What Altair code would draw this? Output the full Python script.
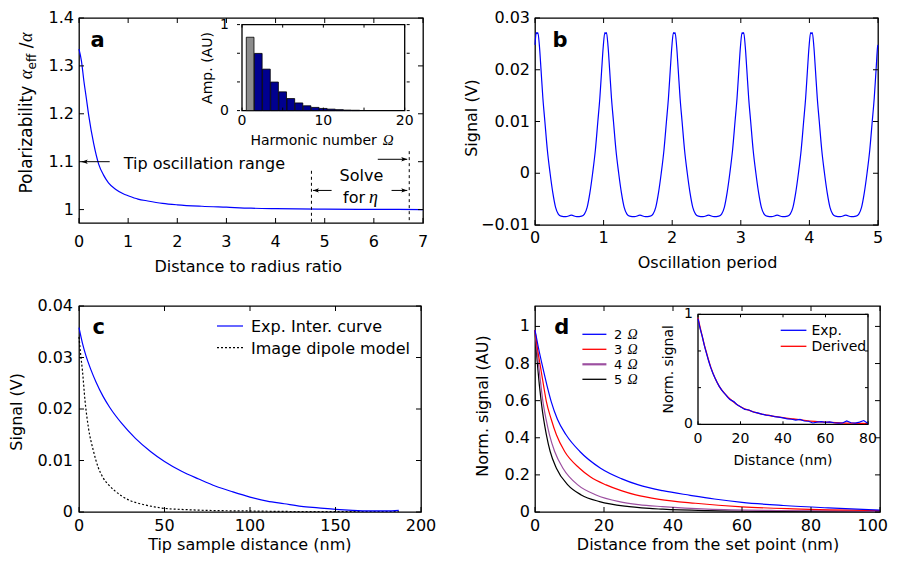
import altair as alt
import pandas as pd

SANS = "DejaVu Sans"
SERIF = "Liberation Serif"
BLUE = "#0000ff"
RED = "#ff0000"
PURPLE = "#9c4fa0"
NAVY = "#00008f"
GRAY = "#8c8c8c"

# ---------------- panel a : polarizability ----------------
a_ratio = [0, 0.05, 0.1, 0.15, 0.2, 0.3, 0.4, 0.5, 0.6, 0.75, 0.9, 1.0, 1.2, 1.4,
           1.7, 2.0, 2.5, 3.0, 3.5, 4.0, 5.0, 6.0, 7.0]
a_polar = [1.335, 1.31, 1.268, 1.232, 1.195, 1.137, 1.095, 1.072, 1.056, 1.042, 1.033,
           1.029, 1.022, 1.018, 1.013, 1.010, 1.007, 1.005, 1.003, 1.002, 1.001, 1.0005, 1.0]
a_xticks = [0, 1, 2, 3, 4, 5, 6, 7]
a_xlabels = ["0", "1", "2", "3", "4", "5", "6", "7"]
a_yticks = [1.0, 1.1, 1.2, 1.3, 1.4]
a_ylabels = ["1", "1.1", "1.2", "1.3", "1.4"]
a_dash_x = [4.73, 6.72]
a_dash_top = [1.081, 1.122]
a_arrow_tail = [0.625, 6.08, 6.36, 5.14]
a_arrow_head = [0.055, 6.68, 6.68, 4.76]
a_arrow_y = [1.1, 1.105, 1.04, 1.04]
a_arrow_dir = ["left", "right", "right", "left"]
# inset a : harmonic amplitudes
a_harmonic = [1, 2, 3, 4, 5, 6, 7, 8, 9, 10, 11, 12, 13, 14]
a_amp = [0.853, 0.665, 0.482, 0.332, 0.218, 0.14, 0.089, 0.056, 0.037, 0.025, 0.017,
         0.011, 0.006, 0.004]
a_bar_kind = ["fundamental", "harmonic", "harmonic", "harmonic", "harmonic", "harmonic",
              "harmonic", "harmonic", "harmonic", "harmonic", "harmonic", "harmonic",
              "harmonic", "harmonic"]
a_inset_xticks = [0, 5, 10, 15, 20]
a_inset_xlabels = [0, 10, 20]
a_inset_yticks = [0, 0.3333, 0.6667, 1]
a_inset_ylabels = [0, 1]

# ---------------- panel b : signal over oscillation periods ----------------
b_period = [0.0,
            0.018, 0.030, 0.042, 0.065, 0.088, 0.115, 0.144, 0.180, 0.220, 0.260, 0.300, 0.340, 0.380,
            0.450, 0.530, 0.610, 0.680, 0.720, 0.760, 0.800, 0.840, 0.880, 0.916, 0.945, 0.972, 0.995,
            1.018, 1.030, 1.042, 1.065, 1.088, 1.115, 1.144, 1.180, 1.220, 1.260, 1.300, 1.340, 1.380,
            1.450, 1.530, 1.610, 1.680, 1.720, 1.760, 1.800, 1.840, 1.880, 1.916, 1.945, 1.972, 1.995,
            2.018, 2.030, 2.042, 2.065, 2.088, 2.115, 2.144, 2.180, 2.220, 2.260, 2.300, 2.340, 2.380,
            2.450, 2.530, 2.610, 2.680, 2.720, 2.760, 2.800, 2.840, 2.880, 2.916, 2.945, 2.972, 2.995,
            3.018, 3.030, 3.042, 3.065, 3.088, 3.115, 3.144, 3.180, 3.220, 3.260, 3.300, 3.340, 3.380,
            3.450, 3.530, 3.610, 3.680, 3.720, 3.760, 3.800, 3.840, 3.880, 3.916, 3.945, 3.972, 3.995,
            4.018, 4.030, 4.042, 4.065, 4.088, 4.115, 4.144, 4.180, 4.220, 4.260, 4.300, 4.340, 4.380,
            4.450, 4.530, 4.610, 4.680, 4.720, 4.760, 4.800, 4.840, 4.880, 4.916, 4.945, 4.972, 4.995,
            5.0]
b_signal = [0.0248,
            0.0272, 0.0270, 0.0272, 0.0245, 0.0200, 0.0145, 0.0100, 0.0045, 0.0000, -0.0038, -0.0066, -0.0079, -0.0083,
            -0.0084, -0.0081, -0.0084, -0.0083, -0.0079, -0.0066, -0.0038, 0.0000, 0.0045, 0.0100, 0.0145, 0.0200, 0.0245,
            0.0272, 0.0270, 0.0272, 0.0245, 0.0200, 0.0145, 0.0100, 0.0045, 0.0000, -0.0038, -0.0066, -0.0079, -0.0083,
            -0.0084, -0.0081, -0.0084, -0.0083, -0.0079, -0.0066, -0.0038, 0.0000, 0.0045, 0.0100, 0.0145, 0.0200, 0.0245,
            0.0272, 0.0270, 0.0272, 0.0245, 0.0200, 0.0145, 0.0100, 0.0045, 0.0000, -0.0038, -0.0066, -0.0079, -0.0083,
            -0.0084, -0.0081, -0.0084, -0.0083, -0.0079, -0.0066, -0.0038, 0.0000, 0.0045, 0.0100, 0.0145, 0.0200, 0.0245,
            0.0272, 0.0270, 0.0272, 0.0245, 0.0200, 0.0145, 0.0100, 0.0045, 0.0000, -0.0038, -0.0066, -0.0079, -0.0083,
            -0.0084, -0.0081, -0.0084, -0.0083, -0.0079, -0.0066, -0.0038, 0.0000, 0.0045, 0.0100, 0.0145, 0.0200, 0.0245,
            0.0272, 0.0270, 0.0272, 0.0245, 0.0200, 0.0145, 0.0100, 0.0045, 0.0000, -0.0038, -0.0066, -0.0079, -0.0083,
            -0.0084, -0.0081, -0.0084, -0.0083, -0.0079, -0.0066, -0.0038, 0.0000, 0.0045, 0.0100, 0.0145, 0.0200, 0.0245,
            0.0248]
b_xticks = [0, 1, 2, 3, 4, 5]
b_xlabels = ["0", "1", "2", "3", "4", "5"]
b_yticks = [-0.01, 0, 0.01, 0.02, 0.03]
b_ylabels = ["\u22120.01", "0", "0.01", "0.02", "0.03"]

# ---------------- panel c : approach curves ----------------
c_exp_x = [0, 2, 4, 7, 10, 14, 18, 25, 33, 42, 50, 60, 70, 80, 90, 100, 110, 120, 130, 140,
           150, 160, 170, 180, 187]
c_exp_y = [0.0358, 0.0328, 0.0304, 0.0276, 0.0252, 0.0225, 0.0203, 0.0172, 0.0143, 0.0117,
           0.0098, 0.0079, 0.0064, 0.0050, 0.0039, 0.0029, 0.0021, 0.0016, 0.0011, 0.0008,
           0.0005, 0.0003, 0.0002, 0.0002, 0.0003]
c_dip_x = [0, 1, 2, 3.5, 5.5, 8.4, 11.3, 14, 17, 21, 25, 30, 37, 44, 50, 60, 76, 100, 125, 150, 187]
c_dip_y = [0.0340, 0.0305, 0.0275, 0.0217, 0.0164, 0.0119, 0.0086, 0.0067, 0.0054, 0.0041, 0.0031,
           0.0022, 0.0015, 0.0010, 0.0007, 0.0005, 0.0003, 0.0002, 0.0001, 0.0001, 0.0001]
c_xticks = [0, 50, 100, 150, 200]
c_xlabels = ["0", "50", "100", "150", "200"]
c_yticks = [0, 0.01, 0.02, 0.03, 0.04]
c_ylabels = ["0", "0.01", "0.02", "0.03", "0.04"]

# ---------------- panel d : harmonics ----------------
d_x2 = [0, 1, 2.3, 3.5, 4.7, 6.5, 9, 13, 19, 25, 30, 37, 45, 52, 60, 72, 85, 100]
d_y2 = [0.98, 0.885, 0.775, 0.68, 0.595, 0.50, 0.416, 0.326, 0.236, 0.18, 0.146, 0.115, 0.09,
        0.07, 0.052, 0.035, 0.022, 0.01]
d_x3 = [0, 0.8, 1.65, 2.5, 3.3, 4.7, 6.2, 8.6, 12.9, 16, 20.6, 25, 29.2, 36, 46.5, 60, 75, 100]
d_y3 = [0.98, 0.87, 0.775, 0.68, 0.595, 0.50, 0.416, 0.326, 0.236, 0.19, 0.146, 0.115, 0.092,
        0.068, 0.047, 0.028, 0.017, 0.008]
d_x4 = [0, 0.5, 1.15, 2.3, 3.2, 4.2, 5.7, 8.1, 12.4, 17.7, 24.4, 30, 36.9, 50, 70, 100]
d_y4 = [0.98, 0.88, 0.775, 0.595, 0.50, 0.416, 0.326, 0.236, 0.146, 0.092, 0.056, 0.04, 0.029,
        0.015, 0.008, 0.005]
d_x5 = [0, 0.4, 0.8, 1.8, 2.5, 3.3, 4.4, 6.2, 9.5, 13.4, 18.7, 27.3, 37, 50, 70, 100]
d_y5 = [0.98, 0.87, 0.775, 0.595, 0.50, 0.416, 0.326, 0.236, 0.146, 0.092, 0.056, 0.029, 0.015,
        0.007, 0.003, 0.002]
d_legend_num = ["2", "3", "4", "5"]
d_xticks = [0, 20, 40, 60, 80, 100]
d_xlabels = ["0", "20", "40", "60", "80", "100"]
d_yticks = [0, 0.2, 0.4, 0.6, 0.8, 1.0]
d_ylabels = ["0", "0.2", "0.4", "0.6", "0.8", "1"]
# inset d
d_der_x = [0, 1, 2, 3, 4, 6, 8, 10, 13, 16, 20, 25, 30, 35, 40, 45, 50, 55, 60, 65, 70, 75, 80]
d_der_y = [0.97, 0.88, 0.80, 0.72, 0.65, 0.52, 0.42, 0.345, 0.27, 0.215, 0.16, 0.12, 0.093,
           0.075, 0.06, 0.048, 0.036, 0.026, 0.019, 0.014, 0.011, 0.009, 0.007]
d_exp_x = [0, 1, 2, 3, 4, 5, 6, 7, 8, 9, 10, 11, 12, 13, 14, 15, 16, 17, 18, 19, 20,
           22, 24, 26, 28, 30, 32, 34, 36, 38, 40, 42, 44, 46, 48, 50, 52, 54, 56, 58, 60,
           62, 64, 66, 68, 70, 72, 74, 76, 78, 80]
d_exp_y = [0.96, 0.87, 0.80, 0.715, 0.645, 0.575, 0.515, 0.465, 0.42, 0.38, 0.345, 0.315,
           0.29, 0.27, 0.245, 0.225, 0.215, 0.205, 0.185, 0.17, 0.16,
           0.135, 0.13, 0.112, 0.104, 0.092, 0.083, 0.08, 0.07, 0.066, 0.058, 0.05, 0.046,
           0.038, 0.045, 0.03, 0.028, 0.012, 0.02, 0.024, 0.018, 0.022, 0.014, 0.01, 0.012,
           0.03, 0.014, 0.01, 0.02, 0.034, 0.008]
d_inset_xticks = [0, 20, 40, 60, 80]
d_inset_yticks = [0, 0.3333, 0.6667, 1]
d_inset_ylabels = [0, 1]

# ---------------- panel geometry (px) ----------------
AW, AH = 344, 205
BW, BH = 343, 207
CW, CH = 342, 206
DW, DH = 345, 206
TICK = 5


def one():
    return pd.DataFrame({"t": [""]})


def text_px(t, x, y, size=16, font=SANS, style="normal", weight="normal",
            align="left", baseline="alphabetic", angle=0, color="black"):
    return alt.Chart(pd.DataFrame({"t": [t]})).mark_text(
        font=font, fontSize=size, fontStyle=style, fontWeight=weight, align=align,
        baseline=baseline, angle=angle, color=color).encode(
        x=alt.value(x), y=alt.value(y), text="t:N")


def rule_px(x1, x2, y1, y2, color="black", width=1.2, dash=None):
    kw = dict(color=color, strokeWidth=width)
    if dash:
        kw["strokeDash"] = dash
    return alt.Chart(one()).mark_rule(**kw).encode(
        x=alt.value(x1), x2=alt.value(x2), y=alt.value(y1), y2=alt.value(y2))


def frame_ticks(xvals, yvals, xs, ys, x0, x1, y0, y1, L=TICK):
    dfx = pd.DataFrame({"v": xvals})
    dfy = pd.DataFrame({"v": yvals})
    X = alt.X("v:Q", scale=xs, axis=None)
    Y = alt.Y("v:Q", scale=ys, axis=None)
    r = dict(color="black", strokeWidth=1)
    return [
        alt.Chart(dfx).mark_rule(**r).encode(x=X, y=alt.value(y1), y2=alt.value(y1 - L)),
        alt.Chart(dfx).mark_rule(**r).encode(x=X, y=alt.value(y0), y2=alt.value(y0 + L)),
        alt.Chart(dfy).mark_rule(**r).encode(y=Y, x=alt.value(x0), x2=alt.value(x0 + L)),
        alt.Chart(dfy).mark_rule(**r).encode(y=Y, x=alt.value(x1), x2=alt.value(x1 - L)),
    ]


def tick_labels(xvals, xlabels, yvals, ylabels, xs, ys, xlab_y, ylab_x, size=16):
    return [
        alt.Chart(pd.DataFrame({"v": xvals, "t": xlabels})).mark_text(
            fontSize=size, align="center", baseline="top", color="black").encode(
            x=alt.X("v:Q", scale=xs, axis=None), y=alt.value(xlab_y), text="t:N"),
        alt.Chart(pd.DataFrame({"v": yvals, "t": ylabels})).mark_text(
            fontSize=size, align="right", baseline="middle", color="black").encode(
            y=alt.Y("v:Q", scale=ys, axis=None), x=alt.value(ylab_x), text="t:N"),
    ]


def line(x, y, xs, ys, color, width=1.2, dash=None, interp="monotone"):
    kw = dict(color=color, strokeWidth=width, interpolate=interp)
    if dash:
        kw["strokeDash"] = dash
    return alt.Chart(pd.DataFrame({"x": x, "y": y})).mark_line(**kw).encode(
        x=alt.X("x:Q", scale=xs, axis=None), y=alt.Y("y:Q", scale=ys, axis=None))


def text_data(t, x, y, xs, ys, size=16, font=SANS, style="normal", align="left"):
    return alt.Chart(pd.DataFrame({"x": [x], "y": [y], "t": [t]})).mark_text(
        font=font, fontSize=size, fontStyle=style, align=align, baseline="alphabetic",
        color="black").encode(
        x=alt.X("x:Q", scale=xs, axis=None), y=alt.Y("y:Q", scale=ys, axis=None), text="t:N")


# ================= panel a =================
xs_a = alt.Scale(domain=[0, 7], nice=False, zero=False)
ys_a = alt.Scale(domain=[0.972, 1.4], nice=False, zero=False)
curve_a = line(a_ratio, a_polar, xs_a, ys_a, BLUE)
dash_a = alt.Chart(pd.DataFrame({"x": a_dash_x, "y": a_dash_top})).mark_rule(
    color="black", strokeWidth=1, strokeDash=[3, 3]).encode(
    x=alt.X("x:Q", scale=xs_a, axis=None), y=alt.Y("y:Q", scale=ys_a, axis=None),
    y2=alt.value(AH))
arr_df = pd.DataFrame({"tail": a_arrow_tail, "head": a_arrow_head, "y": a_arrow_y,
                       "dir": a_arrow_dir})
arr_line = alt.Chart(arr_df).mark_rule(color="black", strokeWidth=1).encode(
    x=alt.X("tail:Q", scale=xs_a, axis=None), x2="head:Q",
    y=alt.Y("y:Q", scale=ys_a, axis=None))
LEFT_HEAD = "M0,0L2.2,-0.8L1.7,0L2.2,0.8Z"
RIGHT_HEAD = "M0,0L-2.2,-0.8L-1.7,0L-2.2,0.8Z"
arr_head = alt.Chart(arr_df).mark_point(filled=True, color="black", size=30, opacity=1).encode(
    x=alt.X("head:Q", scale=xs_a, axis=None), y=alt.Y("y:Q", scale=ys_a, axis=None),
    shape=alt.Shape("dir:N", scale=alt.Scale(domain=["left", "right"],
                                             range=[LEFT_HEAD, RIGHT_HEAD]), legend=None))

notes_a = [
    text_data("Tip oscillation range", 0.91, 1.084, xs_a, ys_a),
    text_data("Solve", 5.747, 1.06, xs_a, ys_a, align="center"),
    text_data("for", 5.372, 1.0146, xs_a, ys_a),
    text_data("\u03b7", 5.90, 1.0146, xs_a, ys_a, size=18, font=SERIF, style="italic"),
]
ytitle_a = [
    text_px("Polarizability", -47.3, 175.6, size=17, angle=270),
    text_px("\u03b1", -47.3, 61.2, size=18, font=SERIF, style="italic", angle=270),
    text_px("eff", -43.5, 51.5, size=12, angle=270),
    text_px("/", -47.3, 30.3, size=17, angle=270),
    text_px("\u03b1", -47.3, 24.0, size=18, font=SERIF, style="italic", angle=270),
]
labels_a = [
    text_px("a", 18.7, 29.3, size=21, weight="bold", align="center"),
    text_px("Distance to radius ratio", 169.2, 254, align="center"),
]
main_a = alt.layer(curve_a, dash_a, arr_line, arr_head, *notes_a,
                   *frame_ticks(a_xticks, a_yticks, xs_a, ys_a, 0, AW, 0, AH),
                   *tick_labels(a_xticks, a_xlabels, a_yticks, a_ylabels, xs_a, ys_a,
                                AH + 10.6, -5),
                   *ytitle_a, *labels_a)

IAX0, IAX1, IAY0, IAY1 = 158, 330.7, 6.6, 92.6
ixs_a = alt.Scale(domain=[0, 20], range=[IAX0, IAX1], nice=False, zero=False)
iys_a = alt.Scale(domain=[0, 1], range=[IAY1, IAY0], nice=False, zero=False)
frame_a = alt.Chart(pd.DataFrame({"x0": [0], "x1": [20], "y0": [0], "y1": [1]})).mark_rect(
    fill="white", stroke="black", strokeWidth=1.3).encode(
    x=alt.X("x0:Q", scale=ixs_a, axis=None), x2="x1:Q",
    y=alt.Y("y0:Q", scale=iys_a, axis=None), y2="y1:Q")
bars_a = alt.Chart(pd.DataFrame({"n": a_harmonic, "amp": a_amp, "kind": a_bar_kind,
                                 "base": [0] * len(a_amp)})).mark_bar(
    size=7.7, stroke="black", strokeWidth=0.8).encode(
    x=alt.X("n:Q", scale=ixs_a, axis=None),
    y=alt.Y("amp:Q", scale=iys_a, axis=None, stack=None), y2="base:Q",
    color=alt.Color("kind:N", scale=alt.Scale(domain=["fundamental", "harmonic"],
                                              range=[GRAY, NAVY]), legend=None))
ixl_a = alt.Chart(pd.DataFrame({"x": a_inset_xlabels, "t": [str(v) for v in a_inset_xlabels]})
                  ).mark_text(fontSize=14, align="center", baseline="top", color="black").encode(
    x=alt.X("x:Q", scale=ixs_a, axis=None), y=alt.value(IAY1 + 3.2), text="t:N")
iyl_a = alt.Chart(pd.DataFrame({"y": a_inset_ylabels, "t": [str(v) for v in a_inset_ylabels]})
                  ).mark_text(fontSize=14, align="right", baseline="middle", color="black").encode(
    y=alt.Y("y:Q", scale=iys_a, axis=None), x=alt.value(IAX0 - 8), text="t:N")
inset_a = alt.layer(
    frame_a, bars_a,
    *frame_ticks(a_inset_xticks, a_inset_yticks, ixs_a, iys_a, IAX0, IAX1, IAY0, IAY1, L=3),
    ixl_a, iyl_a,
    text_px("Amp. (AU)", 132.6, 50, size=14, angle=270, align="center"),
    text_px("Harmonic number", 171.4, 126.8, size=14),
    text_px("\u03a9", 303.7, 126.8, size=15, font=SERIF, style="italic"),
)
pa = alt.layer(main_a, inset_a).resolve_scale(x="independent", y="independent").properties(
    width=AW, height=AH)

# ================= panel b =================
xs_b = alt.Scale(domain=[0, 5], nice=False, zero=False)
ys_b = alt.Scale(domain=[-0.01, 0.03], nice=False, zero=False)
curve_b = line(b_period, b_signal, xs_b, ys_b, BLUE)
pb = alt.layer(
    curve_b, *frame_ticks(b_xticks, b_yticks, xs_b, ys_b, 0, BW, 0, BH),
    *tick_labels(b_xticks, b_xlabels, b_yticks, b_ylabels, xs_b, ys_b, BH + 5.3, -5),
    text_px("b", 25, 28.6, size=21, weight="bold", align="center"),
    text_px("Oscillation period", 172.5, 250, align="center"),
    text_px("Signal (V)", -58.3, 100, angle=270, align="center"),
).properties(width=BW, height=BH)

# ================= panel c =================
xs_c = alt.Scale(domain=[0, 200], nice=False, zero=False)
ys_c = alt.Scale(domain=[0, 0.04], nice=False, zero=False)
curve_c = line(c_exp_x, c_exp_y, xs_c, ys_c, BLUE)
dip_c = line(c_dip_x, c_dip_y, xs_c, ys_c, "black", width=1.2, dash=[2, 2])
pc = alt.layer(
    dip_c, curve_c, *frame_ticks(c_xticks, c_yticks, xs_c, ys_c, 0, CW, 0, CH),
    *tick_labels(c_xticks, c_xlabels, c_yticks, c_ylabels, xs_c, ys_c, CH + 6.3, -6),
    rule_px(138, 164, 20, 20, color=BLUE),
    rule_px(138, 164, 41.7, 41.7, color="black", dash=[2, 2]),
    text_px("Exp. Inter. curve", 172, 26),
    text_px("Image dipole model", 172, 47.7),
    text_px("c", 19.7, 28.3, size=21, weight="bold", align="center"),
    text_px("Tip sample distance (nm)", 170.8, 243.5, align="center"),
    text_px("Signal (V)", -56.6, 105.8, angle=270, align="center"),
).properties(width=CW, height=CH)

# ================= panel d =================
xs_d = alt.Scale(domain=[0, 100], nice=False, zero=False)
ys_d = alt.Scale(domain=[0, 1.11], nice=False, zero=False)
curves_d = [
    line(d_x5, d_y5, xs_d, ys_d, "black"),
    line(d_x4, d_y4, xs_d, ys_d, PURPLE),
    line(d_x3, d_y3, xs_d, ys_d, RED),
    line(d_x2, d_y2, xs_d, ys_d, BLUE),
]
leg_rows = [28.3, 43.3, 58.3, 73.3]
leg_colors = [BLUE, RED, PURPLE, "black"]
leg_widths = [1.3, 1.3, 2.2, 1.3]
legend_d = []
for num, ry, col, w in zip(d_legend_num, leg_rows, leg_colors, leg_widths):
    legend_d += [
        rule_px(47.4, 71.4, ry, ry, color=col, width=w),
        text_px(num, 79, ry + 4.8, size=13),
        text_px("\u03a9", 92.5, ry + 4.8, size=14, font=SERIF, style="italic"),
    ]
# x tick labels of d: the last one is kept inside the page width
d_xlab_main = alt.Chart(pd.DataFrame({"v": d_xticks[:-1], "t": d_xlabels[:-1]})).mark_text(
    fontSize=16, align="center", baseline="top", color="black").encode(
    x=alt.X("v:Q", scale=xs_d, axis=None), y=alt.value(DH + 6.3), text="t:N")
d_xlab_last = alt.Chart(pd.DataFrame({"v": d_xticks[-1:], "t": d_xlabels[-1:]})).mark_text(
    fontSize=16, align="right", baseline="top", color="black", dx=8).encode(
    x=alt.X("v:Q", scale=xs_d, axis=None), y=alt.value(DH + 6.3), text="t:N")
d_ylab = alt.Chart(pd.DataFrame({"v": d_yticks, "t": d_ylabels})).mark_text(
    fontSize=16, align="right", baseline="middle", color="black").encode(
    y=alt.Y("v:Q", scale=ys_d, axis=None), x=alt.value(-5), text="t:N")
main_d = alt.layer(
    *curves_d, *frame_ticks(d_xticks, d_yticks, xs_d, ys_d, 0, DW, 0, DH),
    d_xlab_main, d_xlab_last, d_ylab,
    *legend_d,
    text_px("d", 26.7, 28.3, size=21, weight="bold", align="center"),
    text_px("Distance from the set point (nm)", 173, 244, align="center"),
    text_px("Norm. signal (AU)", -46.9, 100, angle=270, align="center"),
)
IDX0, IDX1, IDY0, IDY1 = 163, 333, 8.3, 118.3
ixs_d = alt.Scale(domain=[0, 80], range=[IDX0, IDX1], nice=False, zero=False)
iys_d = alt.Scale(domain=[0, 1], range=[IDY1, IDY0], nice=False, zero=False)
frame_d = alt.Chart(pd.DataFrame({"x0": [0], "x1": [80], "y0": [0], "y1": [1]})).mark_rect(
    fill="white", stroke="black", strokeWidth=1.3).encode(
    x=alt.X("x0:Q", scale=ixs_d, axis=None), x2="x1:Q",
    y=alt.Y("y0:Q", scale=iys_d, axis=None), y2="y1:Q")
ixl_d = alt.Chart(pd.DataFrame({"x": d_inset_xticks, "t": [str(v) for v in d_inset_xticks]})
                  ).mark_text(fontSize=14, align="center", baseline="top", color="black").encode(
    x=alt.X("x:Q", scale=ixs_d, axis=None), y=alt.value(IDY1 + 7.5), text="t:N")
iyl_d = alt.Chart(pd.DataFrame({"y": d_inset_ylabels, "t": [str(v) for v in d_inset_ylabels]})
                  ).mark_text(fontSize=14, align="right", baseline="middle", color="black").encode(
    y=alt.Y("y:Q", scale=iys_d, axis=None), x=alt.value(IDX0 - 5), text="t:N")
inset_d = alt.layer(
    frame_d,
    line(d_der_x, d_der_y, ixs_d, iys_d, RED, width=1.3),
    line(d_exp_x, d_exp_y, ixs_d, iys_d, BLUE, width=1.2, interp="linear"),
    *frame_ticks(d_inset_xticks, d_inset_yticks, ixs_d, iys_d, IDX0, IDX1, IDY0, IDY1, L=3),
    ixl_d, iyl_d,
    rule_px(245.7, 271.4, 24.3, 24.3, color=BLUE, width=1.3),
    rule_px(245.7, 271.4, 40.3, 40.3, color=RED, width=1.3),
    text_px("Exp.", 276.4, 29.2, size=14),
    text_px("Derived", 276.4, 45.4, size=14),
    text_px("Norm. signal", 138.2, 63.3, size=14, angle=270, align="center"),
    text_px("Distance (nm)", 248, 158.5, size=14, align="center"),
)
pd_ = alt.layer(main_d, inset_d).resolve_scale(x="independent", y="independent").properties(
    width=DW, height=DH)

# ================= assemble =================
chart = alt.concat(pa, pb, pc, pd_, columns=2, spacing={"row": 81, "column": 112},
                   bounds="flush").properties(
    padding={"left": 0, "top": 1, "right": 0, "bottom": 0}, background="white"
).configure_view(stroke="black", strokeWidth=1.3).configure_text(font=SANS)

chart.save("out.html", embed_options={"renderer": "svg", "actions": False})
